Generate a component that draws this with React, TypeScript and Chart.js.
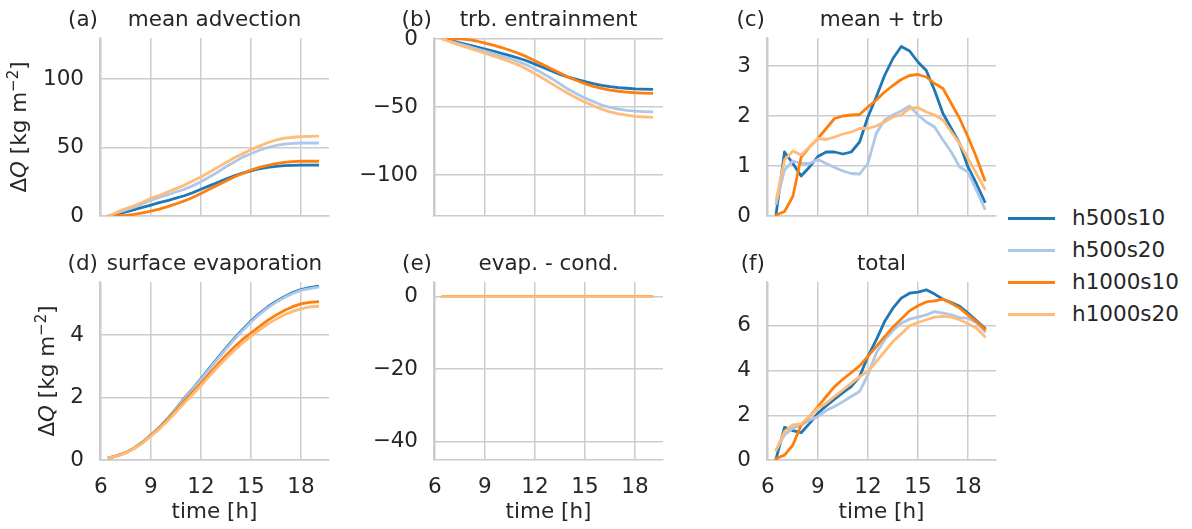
import React, { useEffect, useRef } from "react";
import { Chart, registerables } from "chart.js";
Chart.register(...registerables);

// ---------------- data ----------------
const TIME = [6.5, 7, 7.5, 8, 8.5, 9, 9.5, 10, 10.5, 11, 11.5, 12, 12.5, 13, 13.5, 14, 14.5, 15, 15.5, 16, 16.5, 17, 17.5, 18, 18.5, 19];
const SERIES_NAMES = ["h500s10", "h500s20", "h1000s10", "h1000s20"];
const SERIES_COLORS = ["#1f77b4", "#aec7e8", "#ff7f0e", "#ffbb78"];
const X_TICKS = [6, 9, 12, 15, 18];

// (a) mean advection
const ADV_H500S10 = [0, 1.5, 3, 4.7, 6.3, 8, 9.7, 11.3, 13, 14.8, 17, 19.5, 22, 24.5, 27, 29.3, 31.3, 33, 34.5, 35.5, 36.3, 36.8, 37, 37.2, 37.2, 37.2];
const ADV_H500S20 = [0, 2.5, 4.5, 6.5, 9, 11.5, 13.5, 15.5, 17.5, 19.5, 22, 25, 28.5, 32, 36, 39.5, 43, 45.5, 48, 50, 51.5, 52.5, 53, 53.3, 53.3, 53.3];
const ADV_H1000S10 = [0, 0, 0.5, 1.2, 2.3, 3.6, 5, 6.8, 8.8, 11, 13.5, 16.5, 19.5, 22.5, 25.5, 28.5, 31, 33.5, 35.5, 37, 38.3, 39.2, 39.7, 40, 40, 40];
const ADV_H1000S20 = [0, 3, 5.5, 7.5, 10, 13, 15, 17.5, 20, 22.5, 25.5, 28.5, 32, 35.5, 39, 42.5, 45.5, 48.5, 51, 53.5, 55.5, 56.8, 57.5, 58, 58.2, 58.3];

// (b) trb. entrainment
const ENT_H500S10 = [0, -1.3, -2.8, -4.3, -5.8, -7.4, -9, -10.6, -12.3, -14, -16, -18.5, -21, -23.5, -26, -28, -29.7, -31.3, -32.8, -34, -35, -35.7, -36.2, -36.6, -36.8, -37];
const ENT_H500S20 = [0, -2, -3.8, -5.5, -7.3, -9, -10.8, -12.6, -14.5, -16.5, -19, -22, -25.5, -29, -33, -37, -40.3, -43.3, -46, -48.5, -50.3, -51.6, -52.5, -53, -53.3, -53.5];
const ENT_H1000S10 = [0, 0, 0, -0.5, -1.5, -3, -4.5, -6.3, -8.3, -10.5, -13, -16, -19, -22, -25, -28, -30.5, -32.8, -34.8, -36.3, -37.5, -38.4, -39, -39.5, -39.8, -40];
const ENT_H1000S20 = [0, -2.5, -4.6, -6.5, -8.5, -10.5, -12.5, -14.5, -16.7, -19, -22, -25.5, -29, -32.8, -36.5, -40, -43.3, -46.3, -49, -51.5, -53.5, -55, -56, -56.8, -57.2, -57.5];

// (c) mean + trb
const MT_H500S10 = [0.05, 1.28, 1.05, 0.8, 0.98, 1.19, 1.28, 1.28, 1.24, 1.28, 1.48, 1.98, 2.38, 2.81, 3.15, 3.39, 3.3, 3.08, 2.91, 2.51, 2.05, 1.75, 1.45, 0.98, 0.65, 0.29];
const MT_H500S20 = [0.25, 0.92, 1.1, 1.05, 1.05, 1.13, 1.05, 0.97, 0.9, 0.85, 0.84, 1.05, 1.65, 1.92, 2.02, 2.1, 2.2, 2.02, 1.88, 1.78, 1.52, 1.28, 0.98, 0.88, 0.52, 0.15];
const MT_H1000S10 = [0.02, 0.09, 0.39, 1.18, 1.38, 1.55, 1.75, 1.95, 2.0, 2.02, 2.03, 2.18, 2.32, 2.48, 2.61, 2.73, 2.81, 2.83, 2.78, 2.65, 2.55, 2.25, 1.95, 1.58, 1.18, 0.72];
const MT_H1000S20 = [0.32, 1.12, 1.3, 1.22, 1.38, 1.55, 1.53, 1.58, 1.64, 1.68, 1.75, 1.75, 1.8, 1.88, 1.98, 2.02, 2.15, 2.17, 2.08, 2.02, 1.92, 1.68, 1.45, 1.15, 0.85, 0.55];

// (d) surface evaporation
const EVP_H500S10 = [0.07, 0.14, 0.24, 0.38, 0.57, 0.8, 1.04, 1.32, 1.64, 1.97, 2.28, 2.6, 2.93, 3.26, 3.58, 3.89, 4.18, 4.45, 4.69, 4.9, 5.08, 5.23, 5.36, 5.46, 5.52, 5.56];
const EVP_H500S20 = [0.07, 0.14, 0.24, 0.37, 0.56, 0.79, 1.03, 1.3, 1.62, 1.95, 2.26, 2.57, 2.9, 3.23, 3.55, 3.86, 4.15, 4.42, 4.66, 4.87, 5.05, 5.2, 5.33, 5.43, 5.49, 5.53];
const EVP_H1000S10 = [0.07, 0.14, 0.24, 0.38, 0.56, 0.78, 1.02, 1.29, 1.58, 1.88, 2.17, 2.45, 2.76, 3.06, 3.35, 3.62, 3.86, 4.06, 4.27, 4.47, 4.64, 4.79, 4.91, 5.0, 5.05, 5.07];
const EVP_H1000S20 = [0.07, 0.13, 0.23, 0.37, 0.54, 0.76, 0.99, 1.25, 1.53, 1.82, 2.1, 2.38, 2.68, 2.97, 3.25, 3.51, 3.75, 3.96, 4.16, 4.35, 4.51, 4.65, 4.76, 4.84, 4.9, 4.92];

// (e) evap. - cond.
const EC_H500S10 = [0, 0, 0, 0, 0, 0, 0, 0, 0, 0, 0, 0, 0, 0, 0, 0, 0, 0, 0, 0, 0, 0, 0, 0, 0, 0];
const EC_H500S20 = [0, 0, 0, 0, 0, 0, 0, 0, 0, 0, 0, 0, 0, 0, 0, 0, 0, 0, 0, 0, 0, 0, 0, 0, 0, 0];
const EC_H1000S10 = [0, 0, 0, 0, 0, 0, 0, 0, 0, 0, 0, 0, 0, 0, 0, 0, 0, 0, 0, 0, 0, 0, 0, 0, 0, 0];
const EC_H1000S20 = [0, 0, 0, 0, 0, 0, 0, 0, 0, 0, 0, 0, 0, 0, 0, 0, 0, 0, 0, 0, 0, 0, 0, 0, 0, 0];

// (f) total
const TOT_H500S10 = [0.07, 1.46, 1.31, 1.22, 1.64, 2.09, 2.42, 2.72, 3.01, 3.28, 3.73, 4.63, 5.37, 6.19, 6.79, 7.24, 7.46, 7.51, 7.61, 7.42, 7.19, 7.04, 6.87, 6.57, 6.24, 5.9];
const TOT_H500S20 = [0.45, 1.12, 1.42, 1.57, 1.79, 1.94, 2.21, 2.39, 2.61, 2.84, 3.06, 3.81, 4.78, 5.37, 5.79, 6.12, 6.3, 6.39, 6.49, 6.64, 6.57, 6.49, 6.37, 6.34, 6.15, 5.75];
const TOT_H1000S10 = [0.07, 0.22, 0.67, 1.57, 1.94, 2.39, 2.84, 3.28, 3.61, 3.91, 4.21, 4.63, 5.07, 5.52, 5.94, 6.31, 6.67, 6.9, 7.07, 7.12, 7.19, 7.01, 6.79, 6.49, 6.19, 5.85];
const TOT_H1000S20 = [0.45, 1.27, 1.57, 1.61, 1.94, 2.31, 2.54, 2.84, 3.13, 3.43, 3.73, 3.96, 4.4, 4.85, 5.3, 5.64, 6.0, 6.15, 6.27, 6.39, 6.42, 6.39, 6.27, 6.09, 5.9, 5.52];

// y tick labels
const Y_TICKS_A = [0, 50, 100];
const Y_TICKS_B = [-100, -50, 0];
const Y_TICKS_C = [0, 1, 2, 3];
const Y_TICKS_D = [0, 2, 4];
const Y_TICKS_E = [-40, -20, 0];
const Y_TICKS_F = [0, 2, 4, 6];

// ---------------- style / layout ----------------
const FF = "'DejaVu Sans', sans-serif";
const FS = 21.5;
const TEXT = "#262626";
const GRID = "#cccccc";
const PLOT_W = 229;
const PLOT_H = 178;
const COL_LEFT = [100, 434, 767];
const ROW_TOP = [38, 282];
const Y_AXIS_W = 100;
const TOP_PAD = 38;

type PanelCfg = {
  label: string;
  title: string;
  series: number[][];
  yMin: number;
  yMax: number;
  yTicks: number[];
  col: number;
  row: number;
  yLabelOffset: number | null;
};

const PANELS: PanelCfg[] = [
  { label: "(a)", title: "mean advection", series: [ADV_H500S10, ADV_H500S20, ADV_H1000S10, ADV_H1000S20], yMin: 0, yMax: 130, yTicks: Y_TICKS_A, col: 0, row: 0, yLabelOffset: 74.5 },
  { label: "(b)", title: "trb. entrainment", series: [ENT_H500S10, ENT_H500S20, ENT_H1000S10, ENT_H1000S20], yMin: -130, yMax: 0.7, yTicks: Y_TICKS_B, col: 1, row: 0, yLabelOffset: null },
  { label: "(c)", title: "mean + trb", series: [MT_H500S10, MT_H500S20, MT_H1000S10, MT_H1000S20], yMin: 0, yMax: 3.56, yTicks: Y_TICKS_C, col: 2, row: 0, yLabelOffset: null },
  { label: "(d)", title: "surface evaporation", series: [EVP_H500S10, EVP_H500S20, EVP_H1000S10, EVP_H1000S20], yMin: 0, yMax: 5.7, yTicks: Y_TICKS_D, col: 0, row: 1, yLabelOffset: 46.5 },
  { label: "(e)", title: "evap. - cond.", series: [EC_H500S10, EC_H500S20, EC_H1000S10, EC_H1000S20], yMin: -45, yMax: 4, yTicks: Y_TICKS_E, col: 1, row: 1, yLabelOffset: null },
  { label: "(f)", title: "total", series: [TOT_H500S10, TOT_H500S20, TOT_H1000S10, TOT_H1000S20], yMin: 0, yMax: 7.96, yTicks: Y_TICKS_F, col: 2, row: 1, yLabelOffset: null },
];

const fmt = (v: number) => String(v).replace("-", "\u2212");

function Panel({ cfg }: { cfg: PanelCfg }) {
  const ref = useRef<HTMLCanvasElement | null>(null);
  const bottomRow = cfg.row === 1;
  const xAxisH = bottomRow ? 69 : 16;
  const cw = Y_AXIS_W + PLOT_W + 4;
  const ch = TOP_PAD + PLOT_H + xAxisH;
  const left = COL_LEFT[cfg.col] - Y_AXIS_W;
  const top = ROW_TOP[cfg.row] - TOP_PAD;

  useEffect(() => {
    if (!ref.current) return;
    const decor = {
      id: "decor",
      afterDraw(chart: any) {
        const ctx = chart.ctx as CanvasRenderingContext2D;
        const a = chart.chartArea;
        ctx.save();
        ctx.fillStyle = TEXT;
        ctx.font = `${FS}px ${FF}`;
        ctx.textBaseline = "alphabetic";
        ctx.textAlign = "center";
        ctx.fillText(cfg.title, (a.left + a.right) / 2, a.top - 12);
        ctx.textAlign = "right";
        ctx.fillText(cfg.label, a.left - 2, a.top - 12);
        if (bottomRow) {
          ctx.textAlign = "center";
          ctx.fillText("time [h]", (a.left + a.right) / 2, a.bottom + 58);
        }
        if (cfg.yLabelOffset !== null) {
          const parts = [
            { t: "\u0394", f: `${FS}px ${FF}`, dy: 0 },
            { t: "Q", f: `italic ${FS}px ${FF}`, dy: 0 },
            { t: " [kg m", f: `${FS}px ${FF}`, dy: 0 },
            { t: "\u22122", f: `15px ${FF}`, dy: -8 },
            { t: "]", f: `${FS}px ${FF}`, dy: 0 },
          ];
          let total = 0;
          const widths = parts.map((p) => {
            ctx.font = p.f;
            const w = ctx.measureText(p.t).width;
            total += w;
            return w;
          });
          ctx.translate(a.left - cfg.yLabelOffset, (a.top + a.bottom) / 2);
          ctx.rotate(-Math.PI / 2);
          ctx.textAlign = "left";
          let x = -total / 2;
          parts.forEach((p, i) => {
            ctx.font = p.f;
            ctx.fillText(p.t, x, p.dy);
            x += widths[i];
          });
        }
        ctx.restore();
      },
    };

    const chart = new Chart(ref.current, {
      type: "line",
      data: {
        datasets: cfg.series.map((arr, i) => ({
          label: SERIES_NAMES[i],
          data: TIME.map((t, j) => ({ x: t, y: arr[j] })),
          borderColor: SERIES_COLORS[i],
          backgroundColor: SERIES_COLORS[i],
          borderWidth: 2.8,
          borderJoinStyle: "round",
          borderCapStyle: "square",
          pointRadius: 0,
          fill: false,
          tension: 0,
          order: 3 - i,
        })),
      },
      options: {
        animation: false,
        responsive: false,
        maintainAspectRatio: false,
        devicePixelRatio: 1,
        layout: { padding: { top: TOP_PAD, right: 4, left: 0, bottom: 0 } },
        plugins: { legend: { display: false }, title: { display: false }, tooltip: { enabled: false } },
        scales: {
          x: {
            type: "linear",
            min: 5.95,
            max: 19.68,
            afterBuildTicks: (s: any) => {
              s.ticks = X_TICKS.map((v) => ({ value: v }));
            },
            afterFit: (s: any) => {
              s.height = xAxisH;
              s.paddingLeft = 0;
              s.paddingRight = 0;
            },
            grid: { color: GRID, lineWidth: 1.5, drawTicks: false },
            border: { color: GRID, width: 1.6 },
            ticks: {
              display: bottomRow,
              padding: 15,
              color: TEXT,
              font: { family: FF, size: FS },
              maxRotation: 0,
              autoSkip: false,
              callback: (v: any) => fmt(Number(v)),
            },
          },
          y: {
            type: "linear",
            min: cfg.yMin,
            max: cfg.yMax,
            afterBuildTicks: (s: any) => {
              s.ticks = cfg.yTicks.map((v) => ({ value: v }));
            },
            afterFit: (s: any) => {
              s.width = Y_AXIS_W;
              s.paddingTop = 0;
              s.paddingBottom = 0;
            },
            grid: { color: GRID, lineWidth: 1.5, drawTicks: false },
            border: { color: GRID, width: 1.6 },
            ticks: {
              padding: 16,
              color: TEXT,
              font: { family: FF, size: FS },
              autoSkip: false,
              callback: (v: any) => fmt(Number(v)),
            },
          },
        },
      } as any,
      plugins: [decor],
    });
    return () => chart.destroy();
  }, []);

  return (
    <canvas
      ref={ref}
      width={cw}
      height={ch}
      style={{ position: "absolute", left, top, width: cw, height: ch }}
    />
  );
}

function Legend() {
  const rows = [218, 250, 282, 314];
  return (
    <>
      {SERIES_NAMES.map((name, i) => (
        <React.Fragment key={name}>
          <div
            style={{
              position: "absolute",
              left: 1008,
              top: rows[i] - 1.5,
              width: 47,
              height: 3,
              background: SERIES_COLORS[i],
            }}
          />
          <div
            style={{
              position: "absolute",
              left: 1072,
              top: rows[i] - 12,
              height: 24,
              lineHeight: "24px",
              fontFamily: FF,
              fontSize: FS,
              color: TEXT,
              whiteSpace: "nowrap",
            }}
          >
            {name}
          </div>
        </React.Fragment>
      ))}
    </>
  );
}

export default function App() {
  return (
    <div
      style={{
        position: "fixed",
        left: 0,
        top: 0,
        width: 1192,
        height: 529,
        background: "#ffffff",
        overflow: "hidden",
      }}
    >
      {PANELS.map((p) => (
        <Panel key={p.label} cfg={p} />
      ))}
      <Legend />
    </div>
  );
}
